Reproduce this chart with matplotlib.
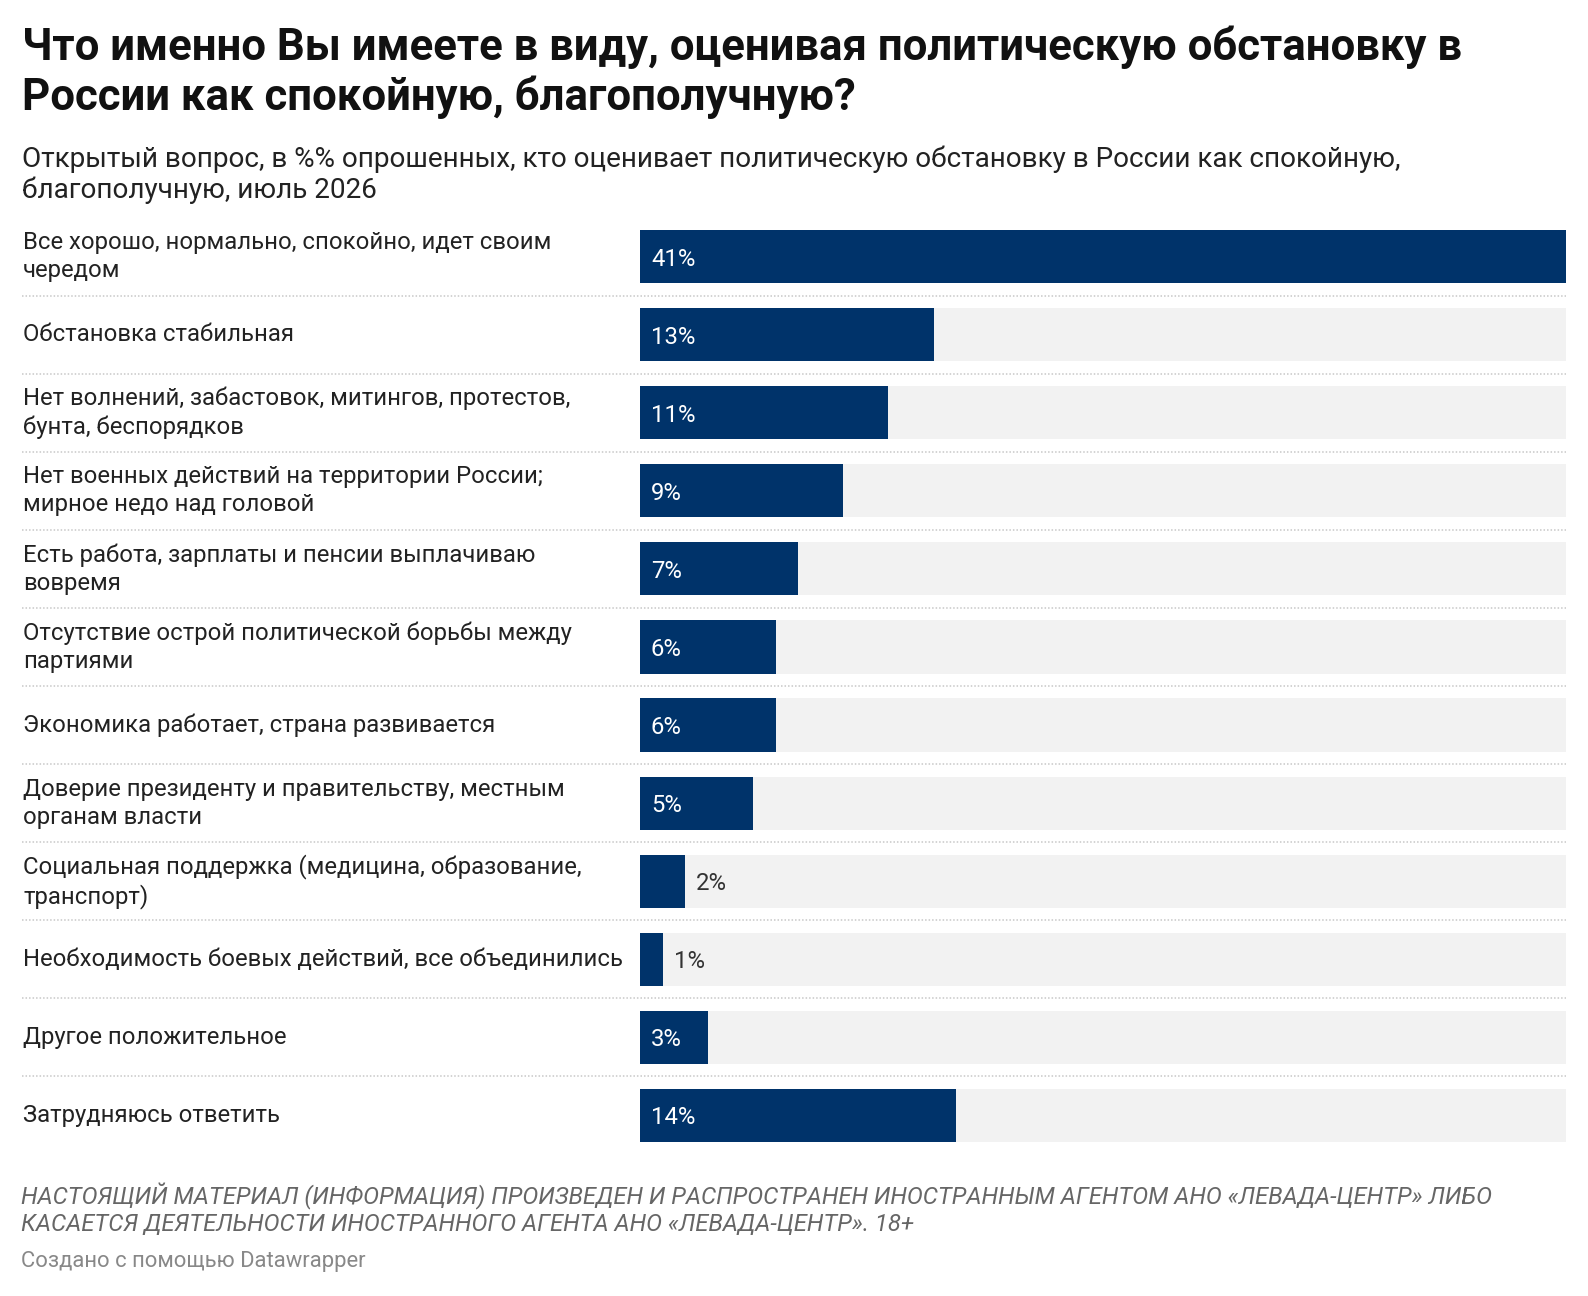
import matplotlib.pyplot as plt
from matplotlib.transforms import blended_transform_factory

plt.rcParams['font.family'] = ['Roboto', 'DejaVu Sans']

labels = [
    "Все хорошо, нормально, спокойно, идет своим\nчередом",
    "Обстановка стабильная",
    "Нет волнений, забастовок, митингов, протестов,\nбунта, беспорядков",
    "Нет военных действий на территории России;\nмирное недо над головой",
    "Есть работа, зарплаты и пенсии выплачиваю\nвовремя",
    "Отсутствие острой политической борьбы между\nпартиями",
    "Экономика работает, страна развивается",
    "Доверие президенту и правительству, местным\nорганам власти",
    "Социальная поддержка (медицина, образование,\nтранспорт)",
    "Необходимость боевых действий, все объединились",
    "Другое положительное",
    "Затрудняюсь ответить",
]
values = [41, 13, 11, 9, 7, 6, 6, 5, 2, 1, 3, 14]

title_lines = ["Что именно Вы имеете в виду, оценивая политическую обстановку в",
               "России как спокойную, благополучную?"]
subtitle_lines = ["Открытый вопрос, в %% опрошенных, кто оценивает политическую обстановку в России как спокойную,",
                  "благополучную, июль 2026"]
note_lines = ["НАСТОЯЩИЙ МАТЕРИАЛ (ИНФОРМАЦИЯ) ПРОИЗВЕДЕН И РАСПРОСТРАНЕН ИНОСТРАННЫМ АГЕНТОМ АНО «ЛЕВАДА-ЦЕНТР» ЛИБО",
              "КАСАЕТСЯ ДЕЯТЕЛЬНОСТИ ИНОСТРАННОГО АГЕНТА АНО «ЛЕВАДА-ЦЕНТР». 18+"]
credit = "Создано с помощью Datawrapper"

W, H = 1588, 1296
fig = plt.figure(figsize=(W / 100, H / 100), dpi=100)
fig.patch.set_facecolor('white')

# bar area: x 640..1566 px, y 230..1142 px
ax = fig.add_axes([640 / W, 1 - 1142 / H, 926 / W, 912 / H])
bar_h = 0.68
n = len(values)
xmax = max(values)
ys = list(range(n))

ax.barh(ys, [xmax] * n, height=bar_h, color='#f2f2f2', zorder=1)
ax.barh(ys, values, height=bar_h, color='#00336a', zorder=2)
ax.set_xlim(0, xmax)
ax.set_ylim(n - 1 + bar_h / 2, -bar_h / 2)
ax.axis('off')

px = xmax / 926.0
mixed = blended_transform_factory(fig.transFigure, ax.transData)
for i, (lab, v) in enumerate(zip(labels, values)):
    ax.text(23 / W, i, lab, transform=mixed, ha='left', va='center',
            fontsize=17.2, color='#222222', linespacing=1.27)
    if v >= 3:
        ax.text(11 * px, i, f"{v}%", ha='left', va='center_baseline',
                fontsize=17.2, color='white', zorder=3)
    else:
        ax.text(v + 11 * px, i, f"{v}%", ha='left', va='center_baseline',
                fontsize=17.2, color='#333333', zorder=3)
    if i < n - 1:
        ax.plot([22 / W, 1566 / W], [i + 0.5, i + 0.5], transform=mixed,
                color='#c8c8c8', lw=1.1, ls=(0, (1, 1.3)), clip_on=False)

for k, line in enumerate(title_lines):
    fig.text(22 / W, 1 - (60 + 50 * k) / H, line, ha='left', va='baseline',
             fontsize=31.5, fontweight='bold', color='#111111')
for k, line in enumerate(subtitle_lines):
    fig.text(22 / W, 1 - (167 + 31 * k) / H, line, ha='left', va='baseline',
             fontsize=20.1, color='#222222')
for k, line in enumerate(note_lines):
    fig.text(21 / W, 1 - (1204 + 27 * k) / H, line, ha='left', va='baseline',
             fontsize=17.2, style='italic', color='#666666')
fig.text(21 / W, 1 - 1267 / H, credit, ha='left', va='baseline',
         fontsize=15.8, color='#888888')

fig.savefig('out.png', dpi=100)
